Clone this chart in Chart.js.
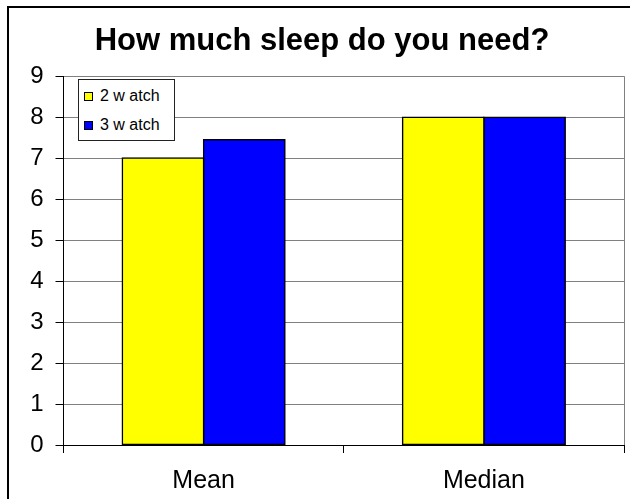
<!DOCTYPE html>
<html>
<head>
<meta charset="utf-8">
<script src="https://cdn.jsdelivr.net/npm/chart.js@4.4.1/dist/chart.umd.min.js"></script>
<style>
  html, body { margin: 0; padding: 0; background: #fff; }
  #wrap { position: relative; width: 630px; height: 499px; overflow: hidden; }
  #frame { position: absolute; left: 7px; top: 6px; width: 700px; height: 600px;
           border-left: 2px solid #000; border-top: 2px solid #000; }
  #legend { position: absolute; left: 78px; top: 79px; width: 95px; height: 60px;
            border: 1px solid #222; background: #fff;
            font-family: 'Liberation Sans', Arial, sans-serif; font-size: 16px; color: #000; }
  .item { position: absolute; left: 5px; height: 20px; line-height: 20px; }
  .swatch { position: absolute; left: 0; top: 6px; width: 7px; height: 7px; border: 1px solid #000; }
  .item span { position: absolute; left: 16px; white-space: nowrap; }
  canvas { position: absolute; left: 0; top: 0; }
</style>
</head>
<body>
<div id="wrap">
  <div id="frame"></div>
  <canvas id="chart" width="630" height="499"></canvas>
  <div id="legend"></div>
</div>
<script>
const categories = ['Mean', 'Median'];
const seriesNames = ['2 w atch', '3 w atch'];
const twoWatch = [7.0, 8.0];
const threeWatch = [7.45, 8.0];
const seriesColors = ['#ffff00', '#0000ff'];
const yTicks = [0, 1, 2, 3, 4, 5, 6, 7, 8, 9];

const FONT = "'Liberation Sans', Arial, sans-serif";

const plotFrame = {
  id: 'plotFrame',
  afterDraw(chart) {
    const { ctx, chartArea } = chart;
    ctx.save();
    ctx.strokeStyle = '#808080';
    ctx.lineWidth = 1;
    ctx.beginPath();
    ctx.moveTo(chartArea.right + 0.5, chartArea.top);
    ctx.lineTo(chartArea.right + 0.5, chartArea.bottom);
    ctx.stroke();
    ctx.restore();
  }
};

const chart = new Chart(document.getElementById('chart'), {
  type: 'bar',
  data: {
    labels: categories,
    datasets: [
      { label: seriesNames[0], data: twoWatch, backgroundColor: seriesColors[0] },
      { label: seriesNames[1], data: threeWatch, backgroundColor: seriesColors[1] }
    ].map(d => Object.assign(d, {
      borderColor: '#000', borderWidth: 1.5, borderSkipped: false, inflateAmount: 0.8,
      categoryPercentage: 0.58, barPercentage: 1
    }))
  },
  options: {
    responsive: false,
    animation: false,
    layout: { padding: { left: 20, right: 6, top: 0, bottom: 0 } },
    plugins: {
      legend: { display: false },
      tooltip: { enabled: false },
      title: {
        display: true,
        text: 'How much sleep do you need?',
        color: '#000',
        font: { family: FONT, size: 31, weight: 'bold' },
        padding: { top: 23, bottom: 16 }
      }
    },
    scales: {
      x: {
        grid: { drawOnChartArea: false, drawTicks: true, tickLength: 8, color: '#000', tickColor: '#000' },
        border: { color: '#000', width: 1 },
        ticks: { color: '#000', padding: 13, font: { family: FONT, size: 25 } },
        afterFit(scale) { scale.height = 54; }
      },
      y: {
        min: 0,
        max: 9,
        afterBuildTicks(scale) { scale.ticks = yTicks.map(v => ({ value: v })); },
        grid: { color: '#808080', tickColor: '#000', tickLength: 8 },
        border: { color: '#000', width: 1 },
        ticks: { color: '#000', padding: 12, font: { family: FONT, size: 24 } },
        afterFit(scale) { scale.width = 43.5; }
      }
    }
  },
  plugins: [plotFrame]
});

// legend built from the datasets
const legend = document.getElementById('legend');
chart.data.datasets.forEach((ds, i) => {
  const item = document.createElement('div');
  item.className = 'item';
  item.style.top = (6 + i * 29) + 'px';
  const sw = document.createElement('div');
  sw.className = 'swatch';
  sw.style.background = ds.backgroundColor;
  const txt = document.createElement('span');
  txt.textContent = ds.label;
  item.appendChild(sw);
  item.appendChild(txt);
  legend.appendChild(item);
});
</script>
</body>
</html>
